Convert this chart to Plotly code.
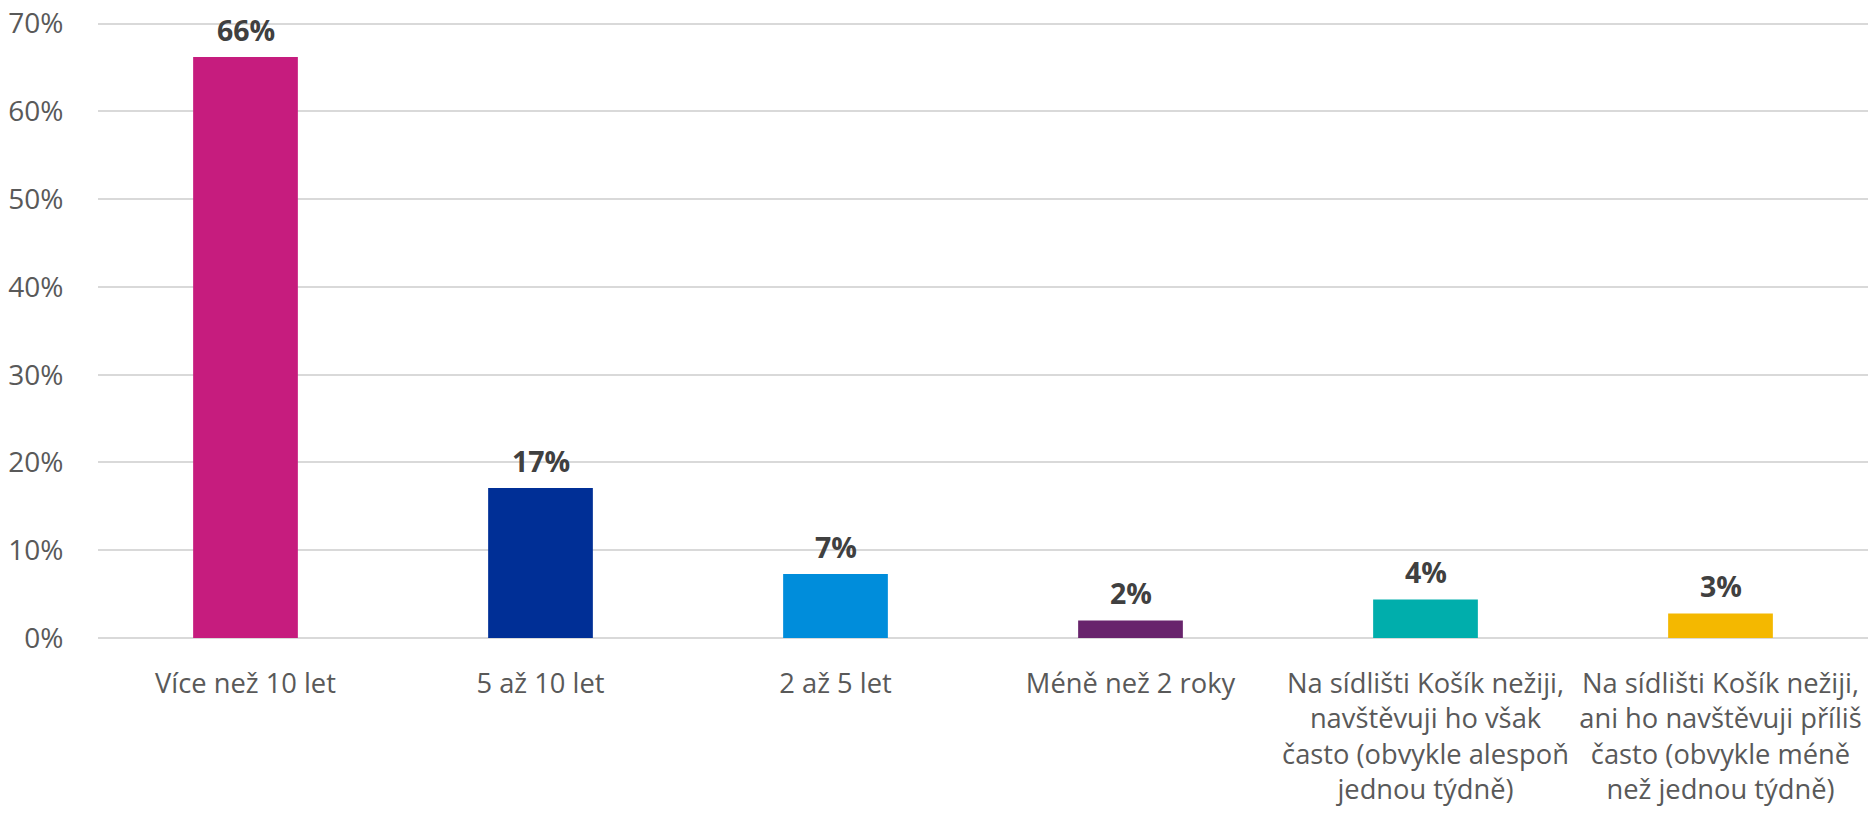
import plotly.graph_objects as go

categories = [
    "Více než 10 let",
    "5 až 10 let",
    "2 až 5 let",
    "Méně než 2 roky",
    "Na sídlišti Košík nežiji,<br>navštěvuji ho však<br>často (obvykle alespoň<br>jednou týdně)",
    "Na sídlišti Košík nežiji,<br>ani ho navštěvuji příliš<br>často (obvykle méně<br>než jednou týdně)",
]
values = [66.2, 17.1, 7.3, 2.0, 4.4, 2.8]
labels = ["66%", "17%", "7%", "2%", "4%", "3%"]
colors = ["#C61C7E", "#002F96", "#008DDB", "#68246C", "#00AEAC", "#F4B800"]
y_ticks = [0, 10, 20, 30, 40, 50, 60, 70]
y_tick_text = ["0%", "10%", "20%", "30%", "40%", "50%", "60%", "70%"]

FONT = "Open Sans"

fig = go.Figure()
fig.add_trace(go.Bar(
    x=categories,
    y=values,
    marker=dict(color=colors, line=dict(width=0)),
    hoverinfo="skip",
))

for c, v, t in zip(categories, values, labels):
    fig.add_annotation(
        x=c, y=v, text="<b>" + t + "</b>", showarrow=False,
        yanchor="bottom", yshift=6,
        font=dict(family=FONT, size=28.5, color="#404040"),
    )

fig.update_layout(
    width=1871, height=814,
    margin=dict(l=98, r=3, t=21, b=176),
    paper_bgcolor="white", plot_bgcolor="white",
    bargap=0.645,
    showlegend=False,
    font=dict(family=FONT, size=27, color="#595959"),
)
fig.update_xaxes(
    showgrid=False, showline=False, zeroline=False,
    tickfont=dict(family=FONT, size=27.3, color="#595959"),
    ticks="outside", ticklen=21, tickcolor="rgba(0,0,0,0)",
)
fig.update_yaxes(
    range=[0, 70.3], tickmode="array", tickvals=y_ticks, ticktext=y_tick_text,
    showgrid=True, gridcolor="#D9D9D9", gridwidth=1.5,
    zeroline=True, zerolinecolor="#D9D9D9", zerolinewidth=1.5,
    showline=False,
    tickfont=dict(family=FONT, size=28, color="#595959"),
    ticks="outside", ticklen=28, tickcolor="rgba(0,0,0,0)",
)

fig.write_html(
    "out.html",
    config={"displayModeBar": False},
    post_script="document.body.style.margin='0';document.body.style.overflow='hidden';",
)
